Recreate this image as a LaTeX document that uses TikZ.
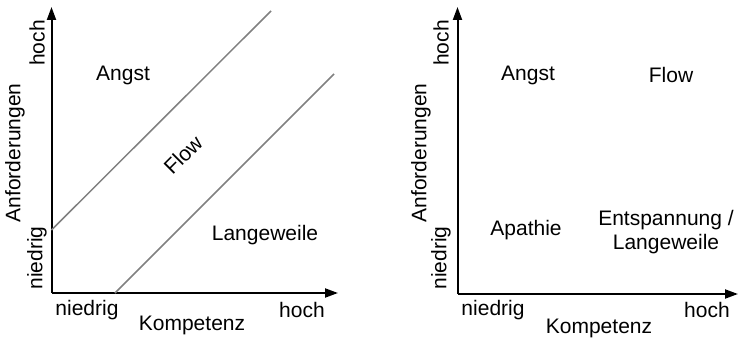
\documentclass[tikz,border=0pt]{standalone}
\usepackage{fontspec}
\setmainfont{Liberation Sans}
\usetikzlibrary{arrows.meta}
\begin{document}
\begin{tikzpicture}[x=1pt,y=-1pt,
  axis/.style={line width=2pt,-{Triangle[length=13pt,width=9pt]}},
  diag/.style={line width=1.5pt,draw=black!50},
  lbl/.style={font=\fontsize{21}{24}\selectfont,inner sep=0pt},
  vlbl/.style={lbl,rotate=90}]
\useasboundingbox (0,0) rectangle (738,342);
% left chart
\coordinate (o1) at (51.5,293);
\coordinate (ytop1) at (51.5,7);
\coordinate (xend1) at (338,293);
\draw[axis] (o1.center) -- (ytop1);
\draw[axis] (o1.center) -- (xend1);
\coordinate (d1a) at (51.5,230);
\coordinate (d1b) at (271,11);
\coordinate (d2a) at (115,293);
\coordinate (d2b) at (334,74);
\draw[diag] (d1a) -- (d1b);
\draw[diag] (d2a) -- (d2b);
\node[vlbl] (hochy1) at (37,43) {hoch};
\node[vlbl] (anf1) at (15,153) {Anforderungen};
\node[vlbl] (niedy1) at (37,258) {niedrig};
\node[lbl] (angst1) at (123,75) {Angst};
\node[lbl,rotate=45] (flow1) at (183,155) {Flow};
\node[lbl] (lang1) at (265,235) {Langeweile};
\node[lbl] (niedx1) at (87,310) {niedrig};
\node[lbl] (hochx1) at (302,310) {hoch};
\node[lbl] (komp1) at (192,325) {Kompetenz};
% right chart
\coordinate (o2) at (457.5,294);
\coordinate (ytop2) at (457.5,7);
\coordinate (xend2) at (738,294);
\draw[axis] (o2.center) -- (ytop2);
\draw[axis] (o2.center) -- (xend2);
\node[vlbl] (hochy2) at (441,43) {hoch};
\node[vlbl] (anf2) at (421,153) {Anforderungen};
\node[vlbl] (niedy2) at (441,258) {niedrig};
\node[lbl] (angst2) at (528,75) {Angst};
\node[lbl] (flow2) at (671,75) {Flow};
\node[lbl] (apath2) at (526,230) {Apathie};
\node[lbl,align=center] (ent2) at (666,232) {Entspannung /\\Langeweile};
\node[lbl] (niedx2) at (493,310) {niedrig};
\node[lbl] (hochx2) at (707,310) {hoch};
\node[lbl] (komp2) at (599,328) {Kompetenz};
\end{tikzpicture}
\end{document}
